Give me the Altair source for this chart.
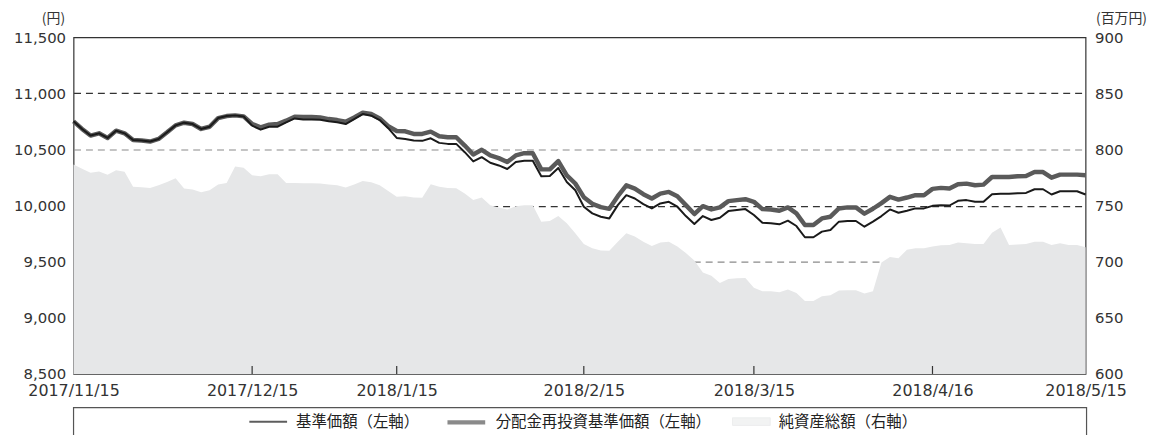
import altair as alt
import pandas as pd

# ---- data ----
tick_idx = [0, 21, 38, 60, 80, 101, 119]
tick_labels = ["2017/11/15", "2017/12/15", "2018/1/15", "2018/2/15",
               "2018/3/15", "2018/4/16", "2018/5/15"]

kijun = [10751, 10683, 10624, 10644, 10603, 10668, 10644, 10585, 10580, 10571, 10594,
         10653, 10715, 10739, 10727, 10683, 10703, 10780, 10798, 10804, 10795,
         10712, 10677, 10703, 10703, 10742, 10777, 10768, 10768, 10765,
         10751, 10742, 10727, 10771, 10816, 10801, 10762, 10690, 10603, 10594,
         10580, 10577, 10600, 10559, 10550, 10550, 10476, 10394, 10432, 10382,
         10358, 10326, 10388, 10400, 10400, 10261, 10264, 10335, 10211, 10137,
         9990, 9931, 9901, 9886, 10004, 10093, 10063, 10013, 9975, 10019,
         10034, 9990, 9907, 9836, 9907, 9872, 9892, 9951, 9960, 9969,
         9916, 9848, 9842, 9833, 9866, 9818, 9718, 9718, 9768, 9783,
         9857, 9863, 9863, 9812, 9857, 9907, 9966, 9936, 9954, 9975,
         9975, 9998, 10004, 10001, 10043, 10049, 10034, 10034, 10102, 10105,
         10105, 10110, 10113, 10146, 10146, 10099, 10128, 10128, 10128, 10099]

reinvest = [10751, 10683, 10624, 10644, 10603, 10668, 10644, 10585, 10580, 10571, 10594,
            10653, 10715, 10739, 10727, 10683, 10703, 10780, 10798, 10804, 10795,
            10727, 10698, 10721, 10727, 10757, 10792, 10789, 10789, 10786,
            10771, 10762, 10748, 10786, 10827, 10816, 10777, 10708, 10665, 10662,
            10639, 10639, 10659, 10618, 10609, 10609, 10535, 10456, 10497, 10447,
            10423, 10388, 10447, 10467, 10467, 10323, 10323, 10397, 10270, 10197,
            10075, 10016, 9986, 9971, 10084, 10181, 10152, 10102, 10063, 10107,
            10122, 10084, 10004, 9925, 9995, 9966, 9984, 10040, 10049, 10057,
            10034, 9969, 9966, 9954, 9984, 9931, 9827, 9827, 9886, 9901,
            9975, 9984, 9984, 9928, 9972, 10022, 10078, 10054, 10072, 10093,
            10093, 10149, 10158, 10152, 10190, 10196, 10181, 10187, 10255, 10255,
            10255, 10261, 10264, 10299, 10299, 10249, 10276, 10276, 10276, 10270]

nav = [786.7, 782.9, 779.3, 780.5, 777.6, 781.4, 780.2, 766.7, 766.4, 765.8, 768.1,
       771.1, 774.3, 765.2, 764.3, 761.9, 763.7, 768.7, 770.2, 784.9, 783.8,
       777.0, 776.1, 777.9, 777.9, 770.2, 770.2, 769.9, 769.9, 769.6,
       768.7, 768.1, 766.1, 768.7, 772.0, 770.8, 768.1, 763.1, 757.8, 758.4,
       757.2, 756.9, 769.0, 766.7, 765.8, 765.5, 760.8, 754.9, 757.2, 750.4,
       748.4, 746.6, 749.5, 750.4, 750.4, 735.7, 736.3, 740.7, 734.2, 725.4,
       715.9, 712.1, 710.0, 709.7, 717.9, 725.4, 722.4, 717.9, 714.1, 717.1,
       717.9, 713.5, 707.7, 701.2, 690.5, 687.6, 681.1, 684.6, 685.2, 685.5,
       676.7, 673.7, 673.7, 672.8, 675.2, 672.2, 664.9, 664.9, 669.3, 670.2,
       674.3, 674.6, 674.6, 671.7, 673.7, 699.4, 704.1, 703.2, 710.6, 712.1,
       712.1, 713.5, 714.7, 715.0, 717.1, 716.5, 715.9, 715.9, 725.9, 730.4,
       715.0, 715.3, 715.9, 717.9, 717.9, 715.0, 716.5, 715.0, 715.0, 713.0]

left_ticks = [8500, 9000, 9500, 10000, 10500, 11000, 11500]
right_ticks = [600, 650, 700, 750, 800, 850, 900]

series_names = ["基準価額（左軸）", "分配金再投資基準価額（左軸）", "純資産総額（右軸）"]
series_colors = ["#1a1a1a", "#5a5a5a", "#e6e7e8"]
series_widths = [2, 4.5, 1]

df = pd.DataFrame({"i": list(range(len(kijun))), "kijun": kijun,
                   "reinvest": reinvest, "nav": nav})
ticks_df = pd.DataFrame({"i": tick_idx[1:-1]})
legend_df = pd.DataFrame({"series": series_names})
box_df = pd.DataFrame({"k": [0]})

W, H = 1019, 339
NUM_FONT = "DejaVu Sans"
JP_FONT = "Noto Sans CJK JP"

label_expr = " : ".join(f"datum.value == {i} ? '{t}'" for i, t in zip(tick_idx, tick_labels)) + " : ''"

x_enc = alt.X("i:Q",
              scale=alt.Scale(domain=[tick_idx[0], tick_idx[-1]], nice=False, zero=False),
              axis=alt.Axis(values=tick_idx, labelExpr=label_expr, ticks=False, domain=False,
                            grid=False, labelFont=NUM_FONT, labelFontSize=16, labelColor="#333",
                            labelPadding=9, labelFlush=False, labelOverlap=False, title=None))

left_axis = alt.Axis(orient="left", values=left_ticks, labelExpr="format(datum.value, ',')",
                     ticks=False, domain=False,
                     grid=True, gridDash=[7, 5], gridWidth=1.2,
                     gridColor={"condition": {"test": "datum.value % 1000 == 0", "value": "#333333"},
                                "value": "#8a8a8a"},
                     gridOpacity={"condition": {"test": "datum.value == 8500 || datum.value == 11500",
                                                "value": 0}, "value": 1},
                     labelFont=NUM_FONT, labelFontSize=15, labelColor="#333", labelPadding=8,
                     labelLimit=200,
                     title="(円)", titleAngle=0, titleX=-9, titleY=-19, titleAlign="right",
                     titleBaseline="middle", titleFont=JP_FONT, titleFontSize=14,
                     titleFontWeight="normal", titleColor="#333")

right_axis = alt.Axis(orient="right", values=right_ticks, ticks=False, domain=False, grid=False,
                      labelFont=NUM_FONT, labelFontSize=15, labelColor="#333", labelPadding=9,
                      title="(百万円)", titleAngle=0, titleX=10, titleY=-19, titleAlign="left",
                      titleBaseline="middle", titleFont=JP_FONT, titleFontSize=14,
                      titleFontWeight="normal", titleColor="#333")

left_scale = alt.Scale(domain=[left_ticks[0], left_ticks[-1]], nice=False, zero=False)

area = alt.Chart(df).mark_area(color=series_colors[2]).encode(
    x=x_enc,
    y=alt.Y("nav:Q", scale=alt.Scale(domain=[right_ticks[0], right_ticks[-1]], nice=False, zero=False),
            axis=right_axis),
    y2=alt.datum(right_ticks[0]),
)

thick = alt.Chart(df).mark_line(color=series_colors[1], strokeWidth=series_widths[1],
                                strokeJoin="round").encode(
    x=x_enc, y=alt.Y("reinvest:Q", scale=left_scale, axis=left_axis))

thin = alt.Chart(df).mark_line(color=series_colors[0], strokeWidth=series_widths[0],
                               strokeJoin="round").encode(
    x=x_enc, y=alt.Y("kijun:Q", scale=left_scale, axis=left_axis))

inner_ticks = alt.Chart(ticks_df).mark_rule(color="#333", strokeWidth=1.2).encode(
    x=alt.X("i:Q"), y=alt.value(H), y2=alt.value(H - 8))

line_path = "M-1,0H1"
rect_path = "M-1,-0.2H1V0.2H-1Z"
leg = alt.Legend(orient="none", legendX=176, legendY=366, direction="horizontal", title=None,
                 labelFont=JP_FONT, labelFontSize=15.5, labelColor="#222", symbolSize=1444,
                 labelOffset=8, labelLimit=400, columnPadding=18, padding=0)

legend_layer = alt.Chart(legend_df).mark_point(clip=True, filled=True).encode(
    x=alt.value(-300), y=alt.value(-300),
    shape=alt.Shape("series:N", scale=alt.Scale(domain=series_names,
                                               range=[line_path, line_path, rect_path]), legend=leg),
    fill=alt.Fill("series:N", scale=alt.Scale(domain=series_names, range=series_colors), legend=leg),
    stroke=alt.Stroke("series:N", scale=alt.Scale(domain=series_names, range=series_colors), legend=leg),
    strokeWidth=alt.StrokeWidth("series:N", scale=alt.Scale(type="ordinal", domain=series_names,
                                                           range=series_widths), legend=leg),
)

box = alt.Chart(box_df).mark_rect(fillOpacity=0, stroke="#555", strokeWidth=1.2).encode(
    x=alt.value(0), x2=alt.value(W + 1), y=alt.value(373), y2=alt.value(470))

left_group = alt.layer(thick, thin, inner_ticks, legend_layer, box)

chart = alt.layer(area, left_group).resolve_scale(y="independent").properties(
    width=W, height=H,
    autosize=alt.AutoSizeParams(type="none"),
    padding={"left": 66, "top": 28, "right": 82, "bottom": 60},
).configure_view(stroke="#333", strokeWidth=1.2)

chart.save("out.html", embed_options={"renderer": "svg", "actions": False})
